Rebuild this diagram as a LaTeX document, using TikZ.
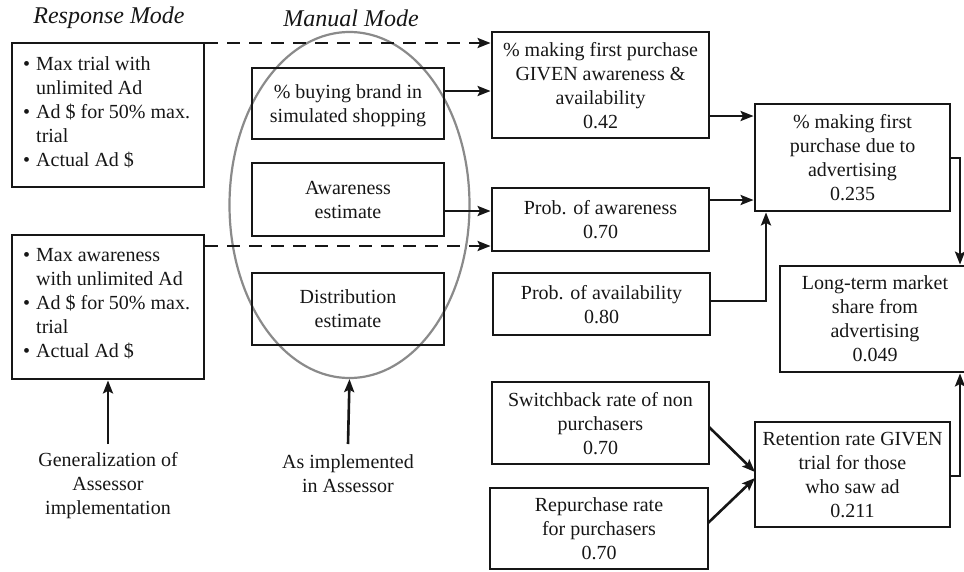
\documentclass[tikz,border=0pt]{standalone}
\usepackage{fontspec}
\setmainfont{Liberation Serif}
\usetikzlibrary{arrows.meta,calc,shapes.geometric}
\definecolor{ink}{HTML}{161616}
\definecolor{ellcol}{HTML}{8A8A8A}
\newcommand{\fs}{\fontsize{20}{24}\selectfont}
\newcommand{\bl}{\textbullet\hspace{6pt}}
\newcommand{\bh}{\phantom{\textbullet}\hspace{6pt}}
\begin{document}
\begin{tikzpicture}[x=1pt,y=-1pt,
  box/.style={draw=ink, line width=2.8pt, inner sep=1pt, align=center, font=\fs, text=ink, text depth=0pt},
  txt/.style={inner sep=0pt, align=center, font=\fs, text=ink},
  arr/.style={draw=ink, line width=2.6pt, -{Stealth[length=13pt,width=10pt,inset=2.5pt]}},
  dsh/.style={arr, dash pattern=on 13pt off 9pt},
  ttl/.style={inner sep=0pt, font=\fontsize{24}{28}\selectfont\itshape, text=ink}]
\useasboundingbox (0,0) rectangle (964,571);

% titles
\node[ttl] (t1) at (109,18) {Response Mode};
\node[ttl] (t2) at (351,18) {Manual Mode};

% ellipse
\node[draw=ellcol, line width=2.2pt, ellipse, minimum width=240pt, minimum height=346pt, inner sep=0pt] (E) at (349.5,205) {};

% left boxes
\node[box, minimum width=192pt, minimum height=144pt] (R1) at (108,115) {};
\node[txt, anchor=west, align=left] (R1t) at (23,112) {\bl Max trial with\\\bh unlimited Ad\\\bl Ad \$ for 50\% max.\\\bh trial\\\bl Actual Ad \$};
\node[box, minimum width=192pt, minimum height=144pt] (R2) at (108,307) {};
\node[txt, anchor=west, align=left] (R2t) at (23,304) {\bl Max awareness\\\bh with unlimited Ad\\\bl Ad \$ for 50\% max.\\\bh trial\\\bl Actual Ad \$};

% manual boxes
\node[box, minimum width=192pt, minimum height=71pt] (M1) at (348,103.5) {\% buying brand in\\simulated shopping};
\node[box, minimum width=192pt, minimum height=73pt] (M2) at (348,199.5) {Awareness\\estimate};
\node[box, minimum width=192pt, minimum height=72pt] (M3) at (348,309) {Distribution\\estimate};

% middle boxes
\node[box, minimum width=217pt, minimum height=106pt] (P1) at (600.5,85) {\% making first purchase\\GIVEN awareness \&\\availability\\0.42};
\node[box, minimum width=217pt, minimum height=63pt] (P2) at (600.5,219.5) {Prob. of awareness\\0.70};
\node[box, minimum width=217pt, minimum height=62pt] (P3) at (601.5,304) {Prob. of availability\\0.80};
\node[box, minimum width=217pt, minimum height=82pt] (S) at (600.5,423) {Switchback rate of non\\purchasers\\0.70};
\node[box, minimum width=218pt, minimum height=81pt] (Rp) at (599,528.5) {Repurchase rate\\for purchasers\\0.70};

% right boxes
\node[box, minimum width=195pt, minimum height=107pt] (F) at (852.5,157.5) {\% making first\\purchase due to\\advertising\\0.235};
\node[box, minimum width=190pt, minimum height=106pt] (L) at (875,319) {Long-term market\\share from\\advertising\\0.049};
\node[box, minimum width=195pt, minimum height=105pt] (Ret) at (852.5,474.5) {Retention rate GIVEN\\trial for those\\who saw ad\\0.211};

% bottom labels
\node[txt] (G) at (108,486) {Generalization of\\Assessor\\implementation};
\node[txt] (A) at (348,474) {As implemented\\in Assessor};

% helper coordinates
\coordinate (y43) at (0,43);
\coordinate (y246) at (0,246);
\coordinate (y91) at (0,91);
\coordinate (y211) at (0,211);
\coordinate (y116) at (0,116);
\coordinate (y200) at (0,200);
\coordinate (y301) at (0,301);
\coordinate (x766) at (766,0);
\coordinate (y158) at (0,158);
\coordinate (y476) at (0,476);
\coordinate (x960) at (960,0);
\coordinate (y444) at (0,444);
\coordinate (s1) at (709,427);
\coordinate (s2) at (755,472);
\coordinate (r1) at (708,523);
\coordinate (r2) at (755,478);

% dashed connectors
\draw[dsh] (R1.east |- y43) -- (P1.west |- y43);
\draw[dsh] (R2.east |- y246) -- (P2.west |- y246);

% solid connectors
\draw[arr] (M1.east |- y91) -- (P1.west |- y91);
\draw[arr] (M2.east |- y211) -- (P2.west |- y211);
\draw[arr] (P1.east |- y116) -- (F.west |- y116);
\draw[arr] (P2.east |- y200) -- (F.west |- y200);
\draw[arr] (P3.east |- y301) -| (x766 |- F.south);
\draw[arr] (F.east |- y158) -| (x960 |- L.north);
\draw[arr] (Ret.east |- y476) -| (x960 |- L.south);
\draw[arr] (s1) -- (s2);
\draw[arr] (r1) -- (r2);
\draw[arr] (G.north |- y444) -- (R2.south);
\draw[arr] (A.north |- y444) -- (E.south);
\end{tikzpicture}
\end{document}
